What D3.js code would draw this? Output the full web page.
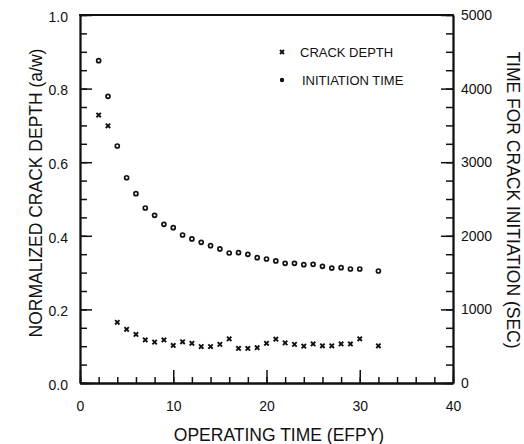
<!DOCTYPE html>
<html>
<head>
<meta charset="utf-8">
<script src="https://cdn.jsdelivr.net/npm/d3@7"></script>
<style>
  html, body { margin: 0; padding: 0; background: #fff; }
  svg { display: block; font-family: "Liberation Sans", Arial, Helvetica, sans-serif; }
</style>
</head>
<body>
<svg id="chart" width="524" height="444"></svg>
<script>
// Operating time (EFPY) of each crack-depth sample and its normalized depth a/w
const crackYears = [2, 3, 4, 5, 6, 7, 8, 9, 10, 11, 12, 13, 14, 15, 16, 17, 18, 19, 20,
                    21, 22, 23, 24, 25, 26, 27, 28, 29, 30, 32];
const crackDepth = [0.728, 0.699, 0.165, 0.146, 0.132, 0.117, 0.111, 0.117, 0.102, 0.112,
                    0.108, 0.099, 0.099, 0.105, 0.120, 0.094, 0.094, 0.096, 0.108, 0.119,
                    0.109, 0.105, 0.100, 0.106, 0.101, 0.101, 0.106, 0.106, 0.120, 0.101];

// Operating time (EFPY) of each initiation sample and the time to crack initiation (sec)
const initYears = [2, 3, 4, 5, 6, 7, 8, 9, 10, 11, 12, 13, 14, 15, 16, 17, 18, 19, 20,
                   21, 22, 23, 24, 25, 26, 27, 28, 29, 30, 32];
const initTime = [4379, 3895, 3220, 2789, 2572, 2378, 2278, 2156, 2111, 2011,
                  1957, 1911, 1866, 1821, 1766, 1771, 1748, 1703, 1685, 1658,
                  1626, 1626, 1608, 1612, 1585, 1562, 1567, 1549, 1549, 1522];

// Axis ticks and labels
const xTicks = [0, 10, 20, 30, 40];
const yLeftTicks = [0.0, 0.2, 0.4, 0.6, 0.8, 1.0];
const yRightTicks = [0, 1000, 2000, 3000, 4000, 5000];
const legendLabels = ["CRACK DEPTH", "INITIATION TIME"];
const xTitle = "OPERATING TIME (EFPY)";
const yLeftTitle = "NORMALIZED CRACK DEPTH (a/w)";
const yRightTitle = "TIME FOR CRACK INITIATION (SEC)";

const svg = d3.select("#chart");
const plotLeft = 80, plotRight = 453, plotTop = 15, plotBottom = 383;

const x = d3.scaleLinear().domain([0, 40]).range([plotLeft, plotRight]);
const yL = d3.scaleLinear().domain([0, 1]).range([plotBottom, plotTop]);
const yR = d3.scaleLinear().domain([0, 5000]).range([plotBottom, plotTop]);

const axisStroke = 1.8;
function styleAxis(g, fontSize) {
  g.selectAll("path.domain").attr("stroke", "#111").attr("stroke-width", axisStroke);
  g.selectAll(".tick line").attr("stroke", "#111").attr("stroke-width", 1.5);
  g.selectAll(".tick text").attr("fill", "#111").attr("font-size", fontSize)
    .attr("font-family", "'Liberation Sans', Arial, sans-serif");
}

// Minor ticks (drawn first, pointing into the plot)
const gxMinor = svg.append("g").attr("transform", `translate(0,${plotBottom})`)
  .call(d3.axisBottom(x).tickValues(d3.range(0, 41, 2)).tickSizeInner(-6).tickSizeOuter(0).tickFormat(""));
styleAxis(gxMinor, 14);
const gyMinor = svg.append("g").attr("transform", `translate(${plotLeft},0)`)
  .call(d3.axisLeft(yL).tickValues(d3.range(0, 1.001, 0.05)).tickSizeInner(-7).tickSizeOuter(0).tickFormat(""));
styleAxis(gyMinor, 14);
const grMinor = svg.append("g").attr("transform", `translate(${plotRight},0)`)
  .call(d3.axisRight(yR).tickValues(d3.range(0, 5001, 250)).tickSizeInner(-7).tickSizeOuter(0).tickFormat(""));
styleAxis(grMinor, 14);

// Major ticks with labels
const gx = svg.append("g").attr("transform", `translate(0,${plotBottom})`)
  .call(d3.axisBottom(x).tickValues(xTicks).tickSizeInner(-13).tickSizeOuter(0).tickPadding(18).tickFormat(d3.format("d")));
styleAxis(gx, 14);
const gy = svg.append("g").attr("transform", `translate(${plotLeft},0)`)
  .call(d3.axisLeft(yL).tickValues(yLeftTicks).tickSizeInner(-12).tickSizeOuter(0).tickPadding(12).tickFormat(d3.format(".1f")));
styleAxis(gy, 14);
gy.selectAll(".tick text").attr("dy", "0.45em");
const gr = svg.append("g").attr("transform", `translate(${plotRight},0)`)
  .call(d3.axisRight(yR).tickValues(yRightTicks).tickSizeInner(-12).tickSizeOuter(0).tickPadding(8).tickFormat(d3.format("d")));
styleAxis(gr, 14);

// Top border of the frame
svg.append("line")
  .attr("x1", plotLeft - axisStroke / 2).attr("x2", plotRight + axisStroke / 2)
  .attr("y1", plotTop).attr("y2", plotTop)
  .attr("stroke", "#111").attr("stroke-width", axisStroke);

// Marker shapes
function cross(sel, s) {
  sel.append("path")
    .attr("d", `M${-s},${-s}L${s},${s}M${-s},${s}L${s},${-s}`)
    .attr("stroke", "#111").attr("stroke-width", 1.9).attr("fill", "none");
}

// Crack depth series
const crackData = crackYears.map((yr, i) => ({ yr, v: crackDepth[i] }));
svg.append("g").selectAll("g").data(crackData).join("g")
  .attr("transform", d => `translate(${x(d.yr)},${yL(d.v)})`)
  .each(function () { cross(d3.select(this), 2.2); });

// Initiation time series
const initData = initYears.map((yr, i) => ({ yr, v: initTime[i] }));
svg.append("g").selectAll("circle").data(initData).join("circle")
  .attr("cx", d => x(d.yr)).attr("cy", d => yR(d.v))
  .attr("r", 2)
  .attr("fill", "#fff").attr("stroke", "#111").attr("stroke-width", 1.7);

// Legend
const legend = svg.append("g");
const lg1 = legend.append("g").attr("transform", "translate(282,52)");
cross(lg1, 2);
legend.append("circle").attr("cx", 282).attr("cy", 80).attr("r", 2.2).attr("fill", "#111");
legend.append("text").attr("x", 300).attr("y", 57).text(legendLabels[0])
  .attr("font-size", 13).attr("fill", "#111");
legend.append("text").attr("x", 302).attr("y", 84.5).text(legendLabels[1])
  .attr("font-size", 13).attr("fill", "#111");

// Axis titles
svg.append("text").attr("x", 279).attr("y", 441).attr("text-anchor", "middle")
  .attr("font-size", 17.5).attr("fill", "#111").text(xTitle);
svg.append("text").attr("transform", "translate(42,193) rotate(-90)").attr("text-anchor", "middle")
  .attr("font-size", 17.5).attr("fill", "#111").text(yLeftTitle);
svg.append("text").attr("transform", "translate(507,200) rotate(90)").attr("text-anchor", "middle")
  .attr("font-size", 17.5).attr("fill", "#111").text(yRightTitle);
</script>
</body>
</html>
